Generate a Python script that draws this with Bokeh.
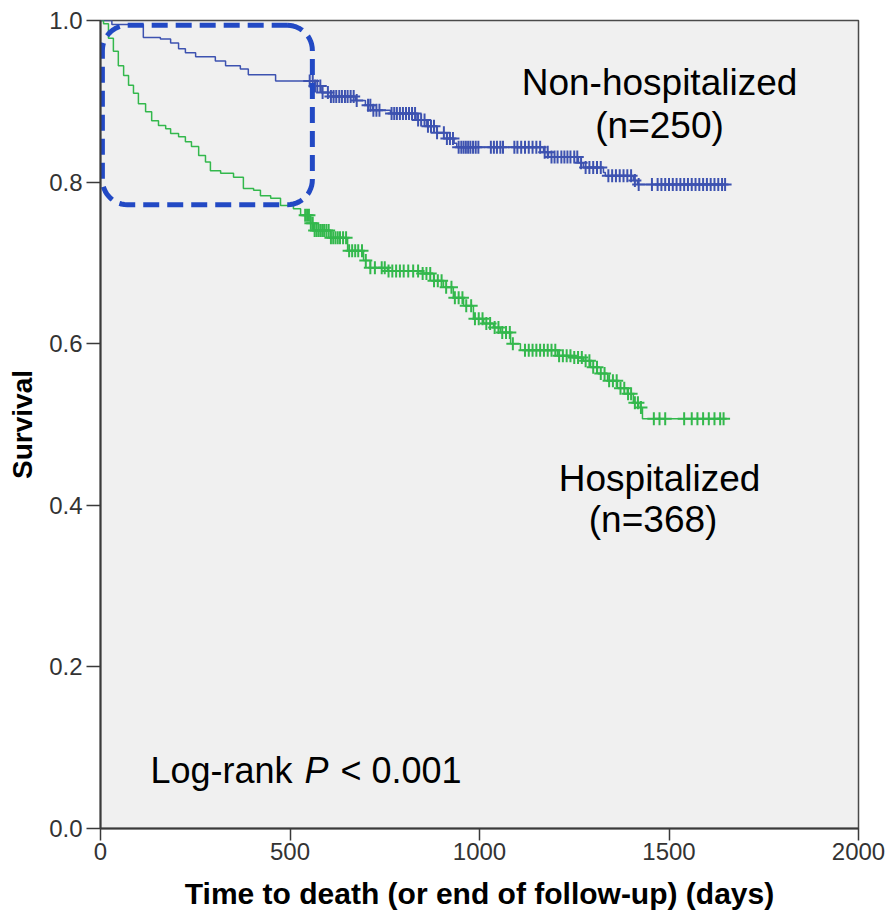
import numpy as np
from bokeh.plotting import figure
from bokeh.models import Range1d, FixedTicker, PrintfTickFormatter, Label
from bokeh.embed import file_html
from bokeh.resources import INLINE

# ---------------- data ----------------
x_ticks = [0, 500, 1000, 1500, 2000]
y_ticks = [0.0, 0.2, 0.4, 0.6, 0.8, 1.0]

# Non-hospitalized (n=250): Kaplan-Meier step points
nonhosp_days = [0, 30, 113, 158, 185, 206, 224, 251, 303, 330, 369, 390, 462,
                565, 582, 607, 673, 699, 718, 765, 835, 861, 887, 914, 933, 940,
                1169, 1182, 1261, 1274, 1327, 1332, 1406, 1417, 1650]
nonhosp_surv = [1.0, 0.995, 0.979, 0.977, 0.972, 0.965, 0.960, 0.955, 0.950, 0.944,
                0.940, 0.933, 0.925, 0.919, 0.911, 0.906, 0.901, 0.895, 0.889, 0.885,
                0.877, 0.869, 0.861, 0.854, 0.848, 0.843, 0.837, 0.831, 0.824, 0.818,
                0.812, 0.808, 0.802, 0.797, 0.797]
nonhosp_censored = [552, 560, 566, 572, 580, 586, 600, 608, 615, 622, 630, 637, 645,
                    652, 660, 668, 676, 706, 712, 720, 728, 736, 768, 775, 782, 790,
                    798, 806, 814, 822, 830, 838, 846, 855, 864, 872, 880, 888, 906,
                    914, 922, 930, 945, 952, 958, 964, 970, 976, 983, 990, 997, 1030,
                    1038, 1046, 1055, 1062, 1092, 1100, 1110, 1120, 1130, 1140, 1150,
                    1160, 1172, 1180, 1190, 1198, 1206, 1216, 1224, 1232, 1240, 1250,
                    1258, 1268, 1280, 1290, 1300, 1310, 1320, 1340, 1350, 1360, 1370,
                    1380, 1390, 1400, 1410, 1420, 1455, 1470, 1480, 1490, 1500, 1510,
                    1520, 1530, 1540, 1550, 1560, 1570, 1580, 1590, 1600, 1610, 1620,
                    1630, 1640, 1648]

# Hospitalized (n=368)
hosp_days = [0, 8, 21, 34, 47, 61, 74, 87, 100, 119, 135, 153, 172, 185, 206, 224,
             240, 259, 277, 290, 317, 351, 377, 404, 422, 449, 475, 509, 528, 554,
             562, 607, 652, 694, 712, 757, 850, 879, 905, 931, 958, 984, 1011, 1037,
             1055, 1082, 1108, 1206, 1248, 1274, 1293, 1311, 1338, 1364, 1390, 1406,
             1420, 1430, 1645]
hosp_surv = [1.0, 0.996, 0.978, 0.962, 0.944, 0.932, 0.920, 0.910, 0.897, 0.887,
             0.876, 0.870, 0.866, 0.860, 0.856, 0.850, 0.844, 0.833, 0.825, 0.814,
             0.811, 0.806, 0.792, 0.790, 0.783, 0.780, 0.771, 0.767, 0.759, 0.749,
             0.740, 0.731, 0.715, 0.703, 0.694, 0.690, 0.687, 0.678, 0.670, 0.657,
             0.647, 0.631, 0.625, 0.620, 0.614, 0.600, 0.592, 0.585, 0.583, 0.579,
             0.571, 0.563, 0.554, 0.545, 0.538, 0.527, 0.521, 0.507, 0.507]
hosp_censored = [540, 545, 550, 555, 560, 565, 570, 575, 580, 585, 590, 596, 602, 608,
                 614, 620, 626, 632, 640, 648, 656, 664, 672, 680, 690, 700, 712, 724,
                 742, 750, 760, 770, 780, 790, 800, 812, 825, 838, 850, 860, 870, 880,
                 890, 900, 912, 926, 935, 945, 955, 965, 978, 988, 998, 1008, 1018,
                 1028, 1040, 1050, 1060, 1070, 1080, 1088, 1120, 1130, 1140, 1150, 1160,
                 1170, 1180, 1190, 1200, 1210, 1220, 1230, 1240, 1250, 1260, 1270, 1280,
                 1290, 1300, 1310, 1320, 1330, 1342, 1352, 1362, 1372, 1382, 1392, 1400,
                 1410, 1418, 1426, 1460, 1475, 1490, 1540, 1560, 1575, 1590, 1605, 1620,
                 1635, 1644]

# highlight box (days, survival)
box_days = [5, 559]
box_surv = [0.772, 0.994]

BLUE = "#3D52B0"
GREEN = "#33B84C"
BOX = "#2249C4"
FONT = "Liberation Sans"


def surv_at(days, surv, t):
    d = np.asarray(days)
    s = np.asarray(surv)
    idx = np.searchsorted(d, np.asarray(t), side="right") - 1
    return s[idx]


FRAME_W, FRAME_H = 758, 808

p = figure(width=886, height=922, output_backend="svg", toolbar_location=None,
           x_range=Range1d(0, 2000), y_range=Range1d(0, 1),
           min_border_left=100, min_border_right=28, min_border_top=20,
           min_border_bottom=94)
p.background_fill_color = "#F0F0F0"
p.border_fill_color = "white"
p.outline_line_color = "#4a4a4a"
p.outline_line_width = 1.5
p.xgrid.visible = False
p.ygrid.visible = False

p.xaxis.ticker = FixedTicker(ticks=x_ticks)
p.yaxis.ticker = FixedTicker(ticks=y_ticks)
p.yaxis.formatter = PrintfTickFormatter(format="%.1f")
for ax in (p.xaxis[0], p.yaxis[0]):
    ax.axis_line_color = "#3a3a3a"
    ax.axis_line_width = 2
    ax.major_tick_line_color = "#3a3a3a"
    ax.major_tick_line_width = 1.5
    ax.major_tick_in = 0
    ax.minor_tick_line_color = None
    ax.major_label_text_font = FONT
    ax.major_label_text_font_size = "24px"
    ax.major_label_text_color = "#333333"
    ax.axis_label_text_font = FONT
    ax.axis_label_text_font_style = "bold"
    ax.axis_label_text_color = "black"

p.xaxis.major_tick_out = 12
p.yaxis.major_tick_out = 14
p.xaxis.major_label_standoff = 2
p.yaxis.major_label_standoff = 4
p.xaxis.axis_label = "Time to death (or end of follow-up) (days)"
p.yaxis.axis_label = "Survival"
p.xaxis.axis_label_text_font_size = "30px"
p.yaxis.axis_label_text_font_size = "28px"
p.xaxis.axis_label_standoff = 14
p.yaxis.axis_label_standoff = 8

# curves
p.step(nonhosp_days, nonhosp_surv, mode="after", line_color=BLUE, line_width=1.5)
p.step(hosp_days, hosp_surv, mode="after", line_color=GREEN, line_width=1.5)

# censor marks
p.scatter(nonhosp_censored, surv_at(nonhosp_days, nonhosp_surv, nonhosp_censored),
          marker="cross", size=13, line_color=BLUE, line_width=2)
p.scatter(hosp_censored, surv_at(hosp_days, hosp_surv, hosp_censored),
          marker="cross", size=13, line_color=GREEN, line_width=2)

# rounded dashed box
r_px = 25
rx = r_px * 2000 / FRAME_W
ry = r_px * 1.0 / FRAME_H
x0, x1 = box_days
y0, y1 = box_surv


def arc(cx, cy, a0, a1):
    t = np.linspace(np.radians(a0), np.radians(a1), 14)
    return list(cx + rx * np.cos(t)), list(cy + ry * np.sin(t))


bx, by = [], []
for cx, cy, a0, a1 in [(x1 - rx, y1 - ry, 90, 0), (x1 - rx, y0 + ry, 0, -90),
                       (x0 + rx, y0 + ry, -90, -180), (x0 + rx, y1 - ry, 180, 90)]:
    ax_, ay_ = arc(cx, cy, a0, a1)
    bx += ax_
    by += ay_
bx.append(bx[0])
by.append(by[0])
p.line(bx, by, line_color=BOX, line_width=5, line_dash="16 8")

# text labels
def add_label(x, y, text, align="center", style="normal", xoff=0, size="36px"):
    p.add_layout(Label(x=x, y=y, text=text, text_align=align, text_baseline="alphabetic",
                       text_font=FONT, text_font_size=size, text_color="black",
                       text_font_style=style, x_offset=xoff))


add_label(1475, 0.923, "Non-hospitalized", size="37px")
add_label(1475, 0.870, "(n=250)", size="37px")
add_label(1475, 0.433, "Hospitalized", size="37px")
add_label(1458, 0.383, "(n=368)", size="37px")
add_label(132, 0.072, "Log-rank", align="left")
add_label(132, 0.072, "P", align="left", style="italic", xoff=154)
add_label(132, 0.072, "< 0.001", align="left", xoff=190)

open("out.html", "w").write(file_html(p, INLINE))
